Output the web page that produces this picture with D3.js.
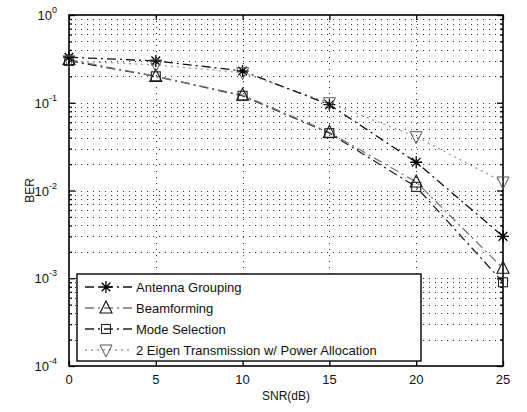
<!DOCTYPE html>
<html>
<head>
<meta charset="utf-8">
<script src="https://cdn.jsdelivr.net/npm/d3@7"></script>
<style>
  html, body { margin: 0; padding: 0; background: #fff; }
  svg { display: block; font-family: "Liberation Sans", Arial, sans-serif; }
</style>
</head>
<body>
<svg id="chart" width="527" height="412"></svg>
<script>
// SNR points (dB)
const snr = [0, 5, 10, 15, 20, 25];

// BER per scheme
const antennaGrouping = [0.33, 0.30, 0.23, 0.095, 0.021, 0.0030];
const beamforming     = [0.31, 0.20, 0.122, 0.046, 0.0125, 0.0013];
const modeSelection   = [0.30, 0.20, 0.120, 0.045, 0.0110, 0.00090];
const eigenPower      = [0.30, 0.27, 0.22, 0.100, 0.041, 0.0125];

const seriesNames = [
  "Antenna Grouping",
  "Beamforming",
  "Mode Selection",
  "2 Eigen Transmission w/ Power Allocation"
];

const xTicks = [0, 5, 10, 15, 20, 25];
const yExponents = [0, -1, -2, -3, -4];

const series = [
  { name: seriesNames[0], values: antennaGrouping, marker: "star",   color: "#111", dash: "9,4,2,4" },
  { name: seriesNames[1], values: beamforming,     marker: "tri",    color: "#777", dash: "9,4,2,4" },
  { name: seriesNames[2], values: modeSelection,   marker: "square", color: "#222", dash: "9,4,2,4" },
  { name: seriesNames[3], values: eigenPower,      marker: "tridown",color: "#999", dash: "2,4" }
];

const svg = d3.select("#chart");
const L = 69, R = 503, T = 15, B = 366;

const x = d3.scaleLinear().domain([0, 25]).range([L, R]);
const y = d3.scaleLog().domain([1e-4, 1]).range([B, T]);

// minor & major log values
const majors = yExponents.map(e => Math.pow(10, e));
const minors = [];
for (let e = -4; e < 0; e++) for (let m = 2; m <= 9; m++) minors.push(m * Math.pow(10, e));

// grid
const grid = svg.append("g").attr("stroke", "#333").attr("stroke-width", 1)
  .attr("stroke-dasharray", "1,5").attr("fill", "none");
grid.selectAll("line.h").data(minors.concat(majors.filter(v => v < 1 && v > 1e-4)))
  .join("line").attr("class", "h")
  .attr("x1", L).attr("x2", R)
  .attr("y1", d => Math.round(y(d)) + 0.5).attr("y2", d => Math.round(y(d)) + 0.5);
grid.selectAll("line.v").data(xTicks.filter(v => v > 0 && v < 25))
  .join("line").attr("class", "v")
  .attr("y1", T).attr("y2", B)
  .attr("x1", d => Math.round(x(d)) + 0.5).attr("x2", d => Math.round(x(d)) + 0.5);

// axes (inward ticks on all sides)
const axG = svg.append("g");
axG.append("g").attr("transform", `translate(0,${B})`)
  .call(d3.axisBottom(x).tickValues(xTicks).tickSize(-5).tickSizeOuter(0).tickFormat(""));
axG.append("g").attr("transform", `translate(0,${T})`)
  .call(d3.axisTop(x).tickValues(xTicks).tickSize(-5).tickSizeOuter(0).tickFormat(""));
axG.append("g").attr("transform", `translate(${L},0)`)
  .call(d3.axisLeft(y).tickValues(majors).tickSize(-6).tickSizeOuter(0).tickFormat(""));
axG.append("g").attr("transform", `translate(${L},0)`)
  .call(d3.axisLeft(y).tickValues(minors).tickSize(-3).tickSizeOuter(0).tickFormat(""));
axG.append("g").attr("transform", `translate(${R},0)`)
  .call(d3.axisRight(y).tickValues(majors).tickSize(-6).tickSizeOuter(0).tickFormat(""));
axG.append("g").attr("transform", `translate(${R},0)`)
  .call(d3.axisRight(y).tickValues(minors).tickSize(-3).tickSizeOuter(0).tickFormat(""));
axG.selectAll(".domain").remove();
axG.selectAll("line").attr("stroke", "#000").attr("stroke-width", 1.3);

// box
svg.append("rect").attr("x", L).attr("y", T).attr("width", R - L).attr("height", B - T)
  .attr("fill", "none").attr("stroke", "#000").attr("stroke-width", 1.6);

// tick labels
svg.append("g").selectAll("text").data(xTicks).join("text")
  .attr("x", d => x(d)).attr("y", B + 18)
  .attr("text-anchor", "middle").attr("font-size", 13).attr("fill", "#111")
  .text(d => d);

const yl = svg.append("g").selectAll("text").data(yExponents).join("text")
  .attr("x", L - 12).attr("y", d => y(Math.pow(10, d)) + 5)
  .attr("text-anchor", "end").attr("font-size", 13).attr("fill", "#111");
yl.append("tspan").text("10");
yl.append("tspan").attr("dy", -7).attr("font-size", 9).text(d => d);

// axis titles
svg.append("text").attr("x", (L + R) / 2).attr("y", 400)
  .attr("text-anchor", "middle").attr("font-size", 12).attr("fill", "#111").text("SNR(dB)");
svg.append("text").attr("transform", `translate(34,${(T + B) / 2}) rotate(-90)`)
  .attr("text-anchor", "middle").attr("font-size", 12).attr("fill", "#111").text("BER");

// markers
function drawMarker(g, type, cx, cy, color) {
  const s = 6;
  if (type === "star") {
    const p = d3.path();
    p.moveTo(cx - s, cy); p.lineTo(cx + s, cy);
    p.moveTo(cx, cy - s); p.lineTo(cx, cy + s);
    p.moveTo(cx - s * 0.72, cy - s * 0.72); p.lineTo(cx + s * 0.72, cy + s * 0.72);
    p.moveTo(cx - s * 0.72, cy + s * 0.72); p.lineTo(cx + s * 0.72, cy - s * 0.72);
    g.append("path").attr("d", p.toString()).attr("stroke", "#000").attr("stroke-width", 1.3).attr("fill", "none");
  } else if (type === "tri") {
    g.append("path").attr("d", `M${cx},${cy - s - 1}L${cx + s},${cy + s - 1}L${cx - s},${cy + s - 1}Z`)
      .attr("stroke", "#111").attr("stroke-width", 1.1).attr("fill", "none");
  } else if (type === "square") {
    g.append("rect").attr("x", cx - 4.5).attr("y", cy - 4.5).attr("width", 9).attr("height", 9)
      .attr("stroke", "#222").attr("stroke-width", 1.1).attr("fill", "none");
  } else if (type === "tridown") {
    g.append("path").attr("d", `M${cx - s},${cy - s + 1}L${cx + s},${cy - s + 1}L${cx},${cy + s + 1}Z`)
      .attr("stroke", "#555").attr("stroke-width", 1).attr("fill", "none");
  }
}

const line = d3.line().x((d, i) => x(snr[i])).y(d => y(d));
const plot = svg.append("g");
// draw lines back to front
[...series].reverse().forEach(s => {
  plot.append("path").datum(s.values).attr("d", line)
    .attr("fill", "none").attr("stroke", s.color).attr("stroke-width", 1.3)
    .attr("stroke-dasharray", s.dash);
});
series.forEach(s => {
  const g = plot.append("g");
  s.values.forEach((v, i) => drawMarker(g, s.marker, x(snr[i]), y(v), s.color));
});

// legend
const lg = svg.append("g");
lg.append("rect").attr("x", 77).attr("y", 274).attr("width", 344).attr("height", 87)
  .attr("fill", "#fff").attr("stroke", "#000").attr("stroke-width", 1.4);
series.forEach((s, i) => {
  const cy = 287 + i * 21;
  lg.append("line").attr("x1", 85).attr("x2", 132).attr("y1", cy).attr("y2", cy)
    .attr("stroke", s.color).attr("stroke-width", 1.3).attr("stroke-dasharray", s.dash);
  drawMarker(lg, s.marker, 106, cy, s.color);
  lg.append("text").attr("x", 136).attr("y", cy + 5).attr("font-size", 13).attr("fill", "#111").text(s.name);
});
</script>
</body>
</html>
